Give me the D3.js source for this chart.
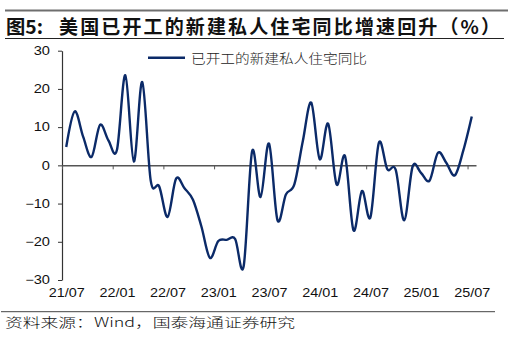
<!DOCTYPE html>
<html>
<head>
<meta charset="utf-8">
<script src="https://cdn.jsdelivr.net/npm/d3@7/dist/d3.min.js"></script>
<style>
  html, body { margin: 0; padding: 0; background: #fff; }
  svg { display: block; }
</style>
</head>
<body>
<svg id="chart" width="512" height="338"></svg>
<script>
// Monthly categories, 2021/07 – 2025/07
const months = [
  "21/07","21/08","21/09","21/10","21/11","21/12",
  "22/01","22/02","22/03","22/04","22/05","22/06",
  "22/07","22/08","22/09","22/10","22/11","22/12",
  "23/01","23/02","23/03","23/04","23/05","23/06",
  "23/07","23/08","23/09","23/10","23/11","23/12",
  "24/01","24/02","24/03","24/04","24/05","24/06",
  "24/07","24/08","24/09","24/10","24/11","24/12",
  "25/01","25/02","25/03","25/04","25/05","25/06",
  "25/07"
];

// YoY growth of US new private housing starts (%)
const startsYoY = [
  4.8, 14.1, 7.5, 2.2, 10.6, 6.5,
  4.0, 23.6, 1.0, 21.8, -4.0, -5.5,
  -13.5, -3.5, -6.0, -9.0, -16.0, -24.2,
  -19.8, -19.5, -19.3, -26.4, 3.7, -8.3,
  5.7, -14.3, -7.6, -5.0, 6.3, 16.4,
  1.6, 10.9, -5.0, 2.4, -17.0, -6.7,
  -13.6, 5.9, -1.0, -1.2, -14.4, -0.3,
  -2.0, -4.0, 3.3, 0.6, -2.6, 3.9,
  12.8
];

const xTickLabels = ["21/07","22/01","22/07","23/01","23/07","24/01","24/07","25/01","25/07"];
const yTicks = [-30, -20, -10, 0, 10, 20, 30];

const seriesName = "已开工的新建私人住宅同比";
const titleLead = "图5:";
const titleText = "美国已开工的新建私人住宅同比增速回升（%）";
const sourceText = "资料来源：Wind，国泰海通证券研究";

const lineColor = "#0b2a68";
const svg = d3.select("#chart");

// Plot frame
const plotLeft = 62, plotRight = 476, plotTop = 50.7, plotBottom = 280;
const xb = d3.scaleLinear().domain([0, months.length]).range([plotLeft, plotRight]);
const y = d3.scaleLinear().domain([-30, 30]).range([plotBottom, plotTop]);
const xMid = i => xb(i + 0.5);

// Title block rules
svg.append("line").attr("x1", 5).attr("x2", 508).attr("y1", 10.5).attr("y2", 10.5)
  .attr("stroke", "#6e6e6e").attr("stroke-width", 2);
svg.append("line").attr("x1", 5).attr("x2", 504).attr("y1", 38.5).attr("y2", 38.5)
  .attr("stroke", "#222").attr("stroke-width", 1);
svg.append("line").attr("x1", 1).attr("x2", 495).attr("y1", 311.7).attr("y2", 311.7)
  .attr("stroke", "#444").attr("stroke-width", 1);

// Title
svg.append("text").attr("x", 6).attr("y", 33.5)
  .attr("font-family", "'Noto Sans CJK SC', sans-serif").attr("font-weight", 700)
  .attr("font-size", 19).attr("fill", "#111")
  .attr("textLength", 37).attr("lengthAdjust", "spacingAndGlyphs")
  .text(titleLead);
svg.append("text").attr("x", 59).attr("y", 33.5)
  .attr("font-family", "'Noto Sans CJK SC', sans-serif").attr("font-weight", 700)
  .attr("font-size", 19).attr("fill", "#111")
  .attr("textLength", 441).attr("lengthAdjust", "spacing")
  .text(titleText);

// Y axis
const yAxis = svg.append("g").attr("transform", `translate(${plotLeft},0)`)
  .call(d3.axisLeft(y).tickValues(yTicks).tickSizeInner(4).tickSizeOuter(0).tickFormat(d3.format("d")));
yAxis.select(".domain").attr("stroke", "#333").attr("stroke-width", 1.2);
yAxis.selectAll(".tick line").attr("stroke", "#333");
yAxis.selectAll(".tick text")
  .attr("x", 0)
  .attr("transform", "translate(-12,0) scale(1.22,1)")
  .attr("font-family", "'Liberation Sans', Arial, sans-serif")
  .attr("font-size", 12).attr("fill", "#111");

// Zero line with month-boundary ticks
const xAxis = svg.append("g").attr("transform", `translate(0,${y(0)})`)
  .call(d3.axisBottom(xb).tickValues(d3.range(0, months.length, 6))
    .tickSizeInner(4).tickSizeOuter(0).tickFormat(""));
xAxis.select(".domain").attr("stroke", "#555").attr("stroke-width", 1.5);
xAxis.selectAll(".tick line").attr("stroke", "#555");

// Month labels along the bottom
const labelIdx = xTickLabels.map(l => months.indexOf(l));
const xLab = svg.append("g").attr("transform", `translate(0,${plotBottom + 8})`)
  .call(d3.axisBottom(xb)
    .tickValues(labelIdx.map(i => i + 0.5)).tickSize(0)
    .tickFormat((d, k) => xTickLabels[k]));
xLab.select(".domain").remove();
xLab.selectAll(".tick text")
  .attr("y", 0).attr("dy", "0.71em")
  .attr("transform", "scale(1.2,1)")
  .attr("font-family", "'Liberation Sans', Arial, sans-serif")
  .attr("font-size", 12).attr("fill", "#111");

// Series line
const line = d3.line()
  .x((d, i) => xMid(i))
  .y(d => y(d))
  .curve(d3.curveCatmullRom.alpha(0));
svg.append("path").datum(startsYoY)
  .attr("d", line).attr("fill", "none")
  .attr("stroke", lineColor).attr("stroke-width", 2.4)
  .attr("stroke-linejoin", "round");

// Legend
svg.append("line").attr("x1", 148).attr("x2", 185).attr("y1", 57.7).attr("y2", 57.7)
  .attr("stroke", lineColor).attr("stroke-width", 2.4);
svg.append("text").attr("x", 191).attr("y", 62.5)
  .attr("font-family", "'Noto Sans CJK SC', sans-serif").attr("font-weight", 300)
  .attr("font-size", 13).attr("fill", "#222")
  .attr("textLength", 176).attr("lengthAdjust", "spacingAndGlyphs")
  .text(seriesName);

// Source note
svg.append("text").attr("x", 5).attr("y", 327)
  .attr("font-family", "'Noto Sans CJK SC', sans-serif").attr("font-weight", 300)
  .attr("font-size", 13).attr("fill", "#111")
  .attr("textLength", 290).attr("lengthAdjust", "spacingAndGlyphs")
  .text(sourceText);
</script>
</body>
</html>
